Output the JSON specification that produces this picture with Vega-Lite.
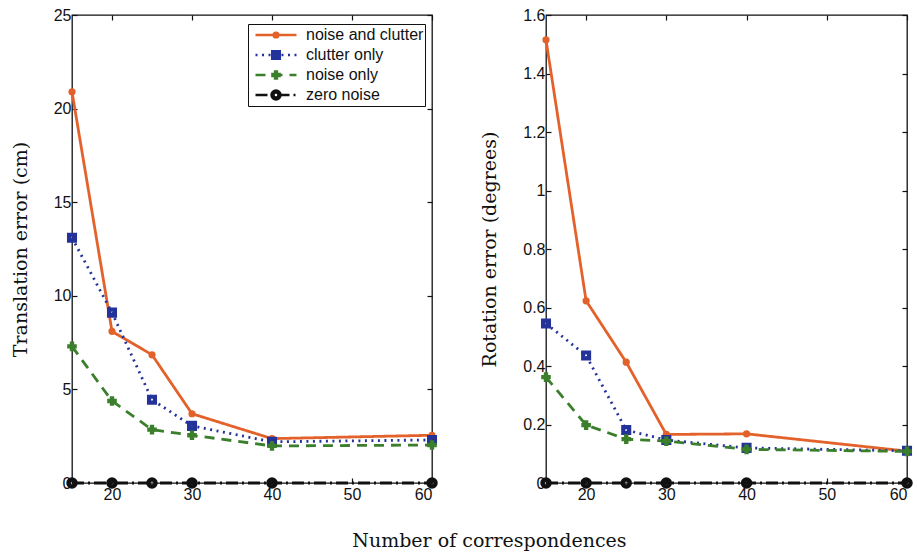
{
  "$schema": "https://vega.github.io/schema/vega-lite/v6.json",
  "background": "white",
  "padding": {"left": 10, "top": 6, "right": 5, "bottom": 2},
  "data": {"values": [
    {"n": 15, "series": "noise and clutter", "t": 20.9, "r": 1.515},
    {"n": 20, "series": "noise and clutter", "t": 8.1, "r": 0.623},
    {"n": 25, "series": "noise and clutter", "t": 6.85, "r": 0.413},
    {"n": 30, "series": "noise and clutter", "t": 3.7, "r": 0.166},
    {"n": 40, "series": "noise and clutter", "t": 2.37, "r": 0.168},
    {"n": 60, "series": "noise and clutter", "t": 2.55, "r": 0.109},
    {"n": 15, "series": "clutter only", "t": 13.1, "r": 0.545},
    {"n": 20, "series": "clutter only", "t": 9.1, "r": 0.436},
    {"n": 25, "series": "clutter only", "t": 4.45, "r": 0.181},
    {"n": 30, "series": "clutter only", "t": 3.05, "r": 0.147},
    {"n": 40, "series": "clutter only", "t": 2.2, "r": 0.12},
    {"n": 60, "series": "clutter only", "t": 2.3, "r": 0.11},
    {"n": 15, "series": "noise only", "t": 7.3, "r": 0.362},
    {"n": 20, "series": "noise only", "t": 4.38, "r": 0.198},
    {"n": 25, "series": "noise only", "t": 2.85, "r": 0.15},
    {"n": 30, "series": "noise only", "t": 2.55, "r": 0.143},
    {"n": 40, "series": "noise only", "t": 1.98, "r": 0.115},
    {"n": 60, "series": "noise only", "t": 2.03, "r": 0.108},
    {"n": 15, "series": "zero noise", "t": 0, "r": 0},
    {"n": 20, "series": "zero noise", "t": 0, "r": 0},
    {"n": 25, "series": "zero noise", "t": 0, "r": 0},
    {"n": 30, "series": "zero noise", "t": 0, "r": 0},
    {"n": 40, "series": "zero noise", "t": 0, "r": 0},
    {"n": 60, "series": "zero noise", "t": 0, "r": 0}
  ]},
  "title": {"text": "Number of correspondences", "orient": "bottom", "anchor": "middle", "font": "DejaVu Serif", "fontSize": 19, "fontWeight": "normal", "color": "#111", "offset": 29, "dx": 26},
  "spacing": 38,
  "resolve": {"scale": {"color": "independent", "strokeDash": "independent", "shape": "independent", "fill": "independent", "stroke": "independent"}},
  "hconcat": [
    {
      "width": 360, "height": 468,
      "layer": [
        {
          "mark": {"type": "line", "strokeWidth": 2.8},
          "encoding": {
            "x": {"field": "n", "type": "quantitative", "scale": {"domain": [15, 60], "nice": false}, "axis": {"values": [20, 30, 40, 50, 60], "title": null}},
            "y": {"field": "t", "type": "quantitative", "scale": {"domain": [0, 25], "nice": false}, "axis": {"values": [0, 5, 10, 15, 20, 25], "title": "Translation error (cm)"}},
            "color": {"field": "series", "type": "nominal",
              "scale": {"domain": ["noise and clutter", "clutter only", "noise only", "zero noise"], "range": ["#e3622b", "#23339a", "#3b7f2c", "#111111"]},
              "legend": {"orient": "none", "legendX": 176, "legendY": 9, "title": null, "strokeColor": "#111", "fillColor": "white", "padding": 1, "clipHeight": 20, "rowPadding": 0, "symbolType": "stroke", "symbolSize": 1681, "symbolStrokeWidth": 2.6, "symbolOffset": 5, "labelFont": "Liberation Sans", "labelFontSize": 16, "labelColor": "#111", "labelOffset": 8, "labelLimit": 300}},
            "strokeDash": {"field": "series", "type": "nominal",
              "scale": {"domain": ["noise and clutter", "clutter only", "noise only", "zero noise"], "range": [[1, 0], [2, 4.5], [10, 7], [12, 4, 2, 4]]}}
          }
        },
        {
          "mark": {"type": "point", "strokeWidth": 2, "size": 90, "opacity": 1},
          "encoding": {
            "x": {"field": "n", "type": "quantitative", "axis": null},
            "y": {"field": "t", "type": "quantitative", "axis": null},
            "shape": {"field": "series", "type": "nominal",
              "scale": {"domain": ["zero noise", "noise only", "clutter only", "noise and clutter"], "range": ["M-1,0A1,1 0 1,0 1,0A1,1 0 1,0 -1,0Z M-0.5,0A0.5,0.5 0 1,1 0.5,0A0.5,0.5 0 1,1 -0.5,0Z", "M-0.8,-0.25H-0.25V-0.8H0.25V-0.25H0.8V0.25H0.25V0.8H-0.25V0.25H-0.8Z", "M-0.85,-0.85H0.85V0.85H-0.85Z M-0.4,-0.4V0.4H0.4V-0.4Z", "M-0.55,0A0.55,0.55 0 1,0 0.55,0A0.55,0.55 0 1,0 -0.55,0Z"]},
              "legend": {"orient": "none", "legendX": 176, "legendY": 9, "title": null, "padding": 1, "clipHeight": 20, "rowPadding": 0, "symbolOffset": 19, "labelExpr": "''", "labelFont": "Liberation Sans", "labelFontSize": 16, "labelOffset": 8, "symbolStrokeWidth": 2, "symbolSize": 90, "values": ["noise and clutter", "clutter only", "noise only", "zero noise"]}},
            "fill": {"field": "series", "type": "nominal",
              "scale": {"domain": ["zero noise", "noise only", "clutter only", "noise and clutter"], "range": ["#111111", "#3b7f2c", "#23339a", "#e3622b"]}},
            "stroke": {"field": "series", "type": "nominal",
              "scale": {"domain": ["zero noise", "noise only", "clutter only", "noise and clutter"], "range": ["#111111", "#3b7f2c", "#23339a", "#e3622b"]}}
          }
        },
        {
          "mark": {"type": "point", "opacity": 0},
          "encoding": {
            "x": {"field": "n", "type": "quantitative", "axis": {"orient": "top", "labels": false, "title": null, "values": [20, 30, 40, 50, 60]}},
            "y": {"field": "t", "type": "quantitative", "axis": {"orient": "right", "labels": false, "title": null, "values": [0, 5, 10, 15, 20, 25]}}
          }
        }
      ],
      "resolve": {"axis": {"x": "independent", "y": "independent"}}
    },
    {
      "width": 361, "height": 468,
      "layer": [
        {
          "mark": {"type": "line", "strokeWidth": 2.8},
          "encoding": {
            "x": {"field": "n", "type": "quantitative", "scale": {"domain": [15, 60], "nice": false}, "axis": {"values": [20, 30, 40, 50, 60], "title": null}},
            "y": {"field": "r", "type": "quantitative", "scale": {"domain": [0, 1.6], "nice": false}, "axis": {"values": [0, 0.2, 0.4, 0.6, 0.8, 1, 1.2, 1.4, 1.6], "format": "~g", "title": "Rotation error (degrees)"}},
            "color": {"field": "series", "type": "nominal",
              "scale": {"domain": ["noise and clutter", "clutter only", "noise only", "zero noise"], "range": ["#e3622b", "#23339a", "#3b7f2c", "#111111"]}, "legend": null},
            "strokeDash": {"field": "series", "type": "nominal",
              "scale": {"domain": ["noise and clutter", "clutter only", "noise only", "zero noise"], "range": [[1, 0], [2, 4.5], [10, 7], [12, 4, 2, 4]]}, "legend": null}
          }
        },
        {
          "mark": {"type": "point", "strokeWidth": 2, "size": 90, "opacity": 1},
          "encoding": {
            "x": {"field": "n", "type": "quantitative", "axis": null},
            "y": {"field": "r", "type": "quantitative", "axis": null},
            "shape": {"field": "series", "type": "nominal",
              "scale": {"domain": ["zero noise", "noise only", "clutter only", "noise and clutter"], "range": ["M-1,0A1,1 0 1,0 1,0A1,1 0 1,0 -1,0Z M-0.5,0A0.5,0.5 0 1,1 0.5,0A0.5,0.5 0 1,1 -0.5,0Z", "M-0.8,-0.25H-0.25V-0.8H0.25V-0.25H0.8V0.25H0.25V0.8H-0.25V0.25H-0.8Z", "M-0.85,-0.85H0.85V0.85H-0.85Z M-0.4,-0.4V0.4H0.4V-0.4Z", "M-0.55,0A0.55,0.55 0 1,0 0.55,0A0.55,0.55 0 1,0 -0.55,0Z"]}, "legend": null},
            "fill": {"field": "series", "type": "nominal",
              "scale": {"domain": ["zero noise", "noise only", "clutter only", "noise and clutter"], "range": ["#111111", "#3b7f2c", "#23339a", "#e3622b"]}, "legend": null},
            "stroke": {"field": "series", "type": "nominal",
              "scale": {"domain": ["zero noise", "noise only", "clutter only", "noise and clutter"], "range": ["#111111", "#3b7f2c", "#23339a", "#e3622b"]}, "legend": null}
          }
        },
        {
          "mark": {"type": "point", "opacity": 0},
          "encoding": {
            "x": {"field": "n", "type": "quantitative", "axis": {"orient": "top", "labels": false, "title": null, "values": [20, 30, 40, 50, 60]}},
            "y": {"field": "r", "type": "quantitative", "axis": {"orient": "right", "labels": false, "title": null, "values": [0, 0.2, 0.4, 0.6, 0.8, 1, 1.2, 1.4, 1.6]}}
          }
        }
      ],
      "resolve": {"axis": {"x": "independent", "y": "independent"}}
    }
  ],
  "config": {
    "view": {"stroke": "#111", "strokeWidth": 1.3},
    "axis": {"labelFont": "Liberation Sans", "labelFontSize": 16, "labelColor": "#111", "titleFont": "DejaVu Serif", "titleFontSize": 19, "titleFontWeight": "normal", "titleColor": "#111", "grid": false, "domain": false, "tickColor": "#111", "tickSize": -5, "tickWidth": 1.2, "labelPadding": 6, "titlePadding": 23},
    "axisX": {"labelPadding": 8.5}
  }
}
